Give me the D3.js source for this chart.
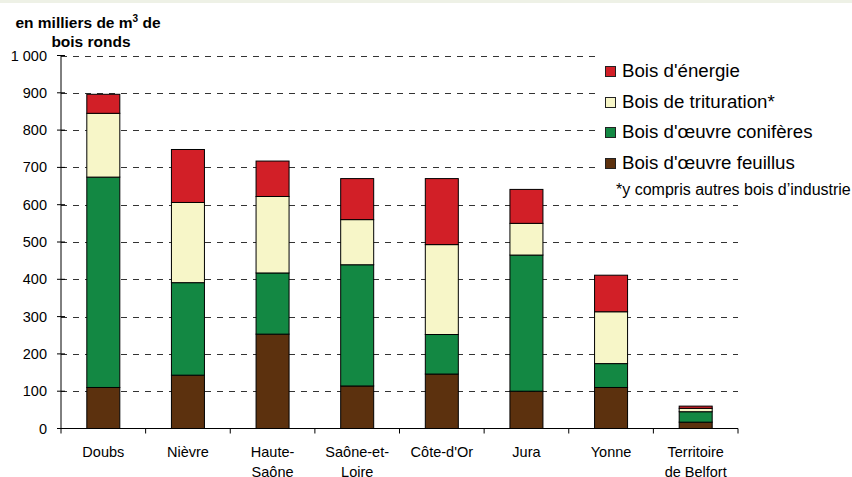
<!DOCTYPE html>
<html><head><meta charset="utf-8">
<script src="https://cdn.jsdelivr.net/npm/d3@7/dist/d3.min.js"></script>
<style>
html,body{margin:0;padding:0;background:#fff;}
svg{display:block;font-family:"Liberation Sans",Arial,sans-serif;}
</style></head>
<body>
<svg id="chart" width="852" height="477"></svg>
<script>
// ---- data ----
const categories = ["Doubs","Nièvre","Haute-Saône","Saône-et-Loire","Côte-d'Or","Jura","Yonne","Territoire de Belfort"];
const categoryLines = [["Doubs"],["Nièvre"],["Haute-","Saône"],["Saône-et-","Loire"],["Côte-d'Or"],["Jura"],["Yonne"],["Territoire","de Belfort"]];
const feuillus   = [110,143,253,114,146,100,110,17];
const coniferes  = [564,248,164,325,106,365, 64,28];
const trituration= [171,215,205,121,241, 85,139, 9];
const energie    = [ 51,142, 95,110,177, 91, 98, 6];
const seriesNames = ["Bois d'œuvre feuillus","Bois d'œuvre conifères","Bois de trituration*","Bois d'énergie"];
const seriesColors = ["#5c310e","#138843","#f7f6c8","#d21f27"];
const yTicks = [0,100,200,300,400,500,600,700,800,900,1000];
const yTickLabels = ["0","100","200","300","400","500","600","700","800","900","1 000"];
const footnote = "*y compris autres bois d\u2019industrie";

// ---- layout ----
const svg = d3.select("#chart");
const pL = 61, pR = 738, pT = 55.5, pB = 428.5;

svg.append("rect").attr("x",0).attr("y",0).attr("width",852).attr("height",3).attr("fill","#eef1e6");

const x = d3.scaleBand().domain(categories).range([pL,pR]).paddingInner(0).paddingOuter(0);
const y = d3.scaleLinear().domain([0,1000]).range([pB,pT]);
const barW = x.bandwidth()*0.39;

// grid
svg.append("g").selectAll("line").data(yTicks.filter(d=>d>0)).join("line")
  .attr("x1",pL).attr("x2",pR)
  .attr("y1",d=>Math.round(y(d))+0.5).attr("y2",d=>Math.round(y(d))+0.5)
  .attr("stroke","#333").attr("stroke-width",1).attr("stroke-dasharray","6,6");

// stacked data
const rows = categories.map((c,i)=>({cat:c, v:[feuillus[i],coniferes[i],trituration[i],energie[i]]}));
const keys = [0,1,2,3];
const stack = d3.stack().keys(keys).value((d,k)=>d.v[k]);
const stacked = stack(rows);

svg.append("g").selectAll("g").data(stacked).join("g")
  .attr("fill",(d,i)=>seriesColors[i])
  .selectAll("rect").data(d=>d).join("rect")
  .attr("x",d=>x(d.data.cat)+(x.bandwidth()-barW)/2)
  .attr("y",d=>y(d[1]))
  .attr("width",barW)
  .attr("height",d=>Math.max(0,y(d[0])-y(d[1])))
  .attr("stroke","#000").attr("stroke-width",1);

// y axis
const ya = svg.append("g");
ya.append("line").attr("x1",pL).attr("x2",pL).attr("y1",pT).attr("y2",pB).attr("stroke","#000");
ya.selectAll("line.t").data(yTicks).join("line").attr("class","t")
  .attr("x1",pL-4).attr("x2",pL+4).attr("y1",d=>y(d)).attr("y2",d=>y(d)).attr("stroke","#000");
ya.selectAll("text").data(yTicks).join("text")
  .attr("x",47).attr("y",d=>y(d)+5).attr("text-anchor","end")
  .attr("font-size","14.5px").attr("fill","#000")
  .text((d,i)=>yTickLabels[i]);

// x axis
const xa = svg.append("g");
xa.append("line").attr("x1",pL).attr("x2",pR).attr("y1",pB).attr("y2",pB).attr("stroke","#000");
const bounds = categories.map(c=>x(c)).concat([pR]);
xa.selectAll("line.t").data(bounds).join("line").attr("class","t")
  .attr("x1",d=>d).attr("x2",d=>d).attr("y1",pB).attr("y2",pB+5).attr("stroke","#000");
xa.selectAll("text").data(categories).join("text")
  .attr("x",d=>x(d)+x.bandwidth()/2).attr("y",457)
  .attr("text-anchor","middle").attr("font-size","14.5px").attr("fill","#000")
  .each(function(d,i){
    const t = d3.select(this);
    categoryLines[i].forEach((ln,j)=>{
      t.append("tspan").attr("x",x(d)+x.bandwidth()/2).attr("dy",j===0?0:20).text(ln);
    });
  });

// title
const title = svg.append("text").attr("x",88).attr("y",28).attr("text-anchor","middle")
  .attr("font-size","15.5px").attr("font-weight","bold").attr("fill","#000");
title.append("tspan").text("en milliers de m");
title.append("tspan").attr("font-size","10px").attr("dy",-6).text("3");
title.append("tspan").attr("dy",6).text(" de");
svg.append("text").attr("x",91).attr("y",46.5).attr("text-anchor","middle")
  .attr("font-size","15.5px").attr("font-weight","bold").attr("fill","#000").text("bois ronds");

// legend
svg.append("rect").attr("x",597).attr("y",50).attr("width",255).attr("height",130).attr("fill","#fff");
const legOrder = [3,2,1,0];
const legBase = [77,108,138,169];
const lg = svg.append("g");
legOrder.forEach((si,j)=>{
  lg.append("rect").attr("x",605.5).attr("y",legBase[j]-10.5).attr("width",10).attr("height",10)
    .attr("fill",seriesColors[si]).attr("stroke","#222").attr("stroke-width",1);
  lg.append("text").attr("x",622).attr("y",legBase[j]).attr("font-size","18.7px").attr("fill","#000").text(seriesNames[si]);
});
lg.append("text").attr("x",616).attr("y",195).attr("font-size","16px").attr("fill","#000").text(footnote);
</script>
</body></html>
